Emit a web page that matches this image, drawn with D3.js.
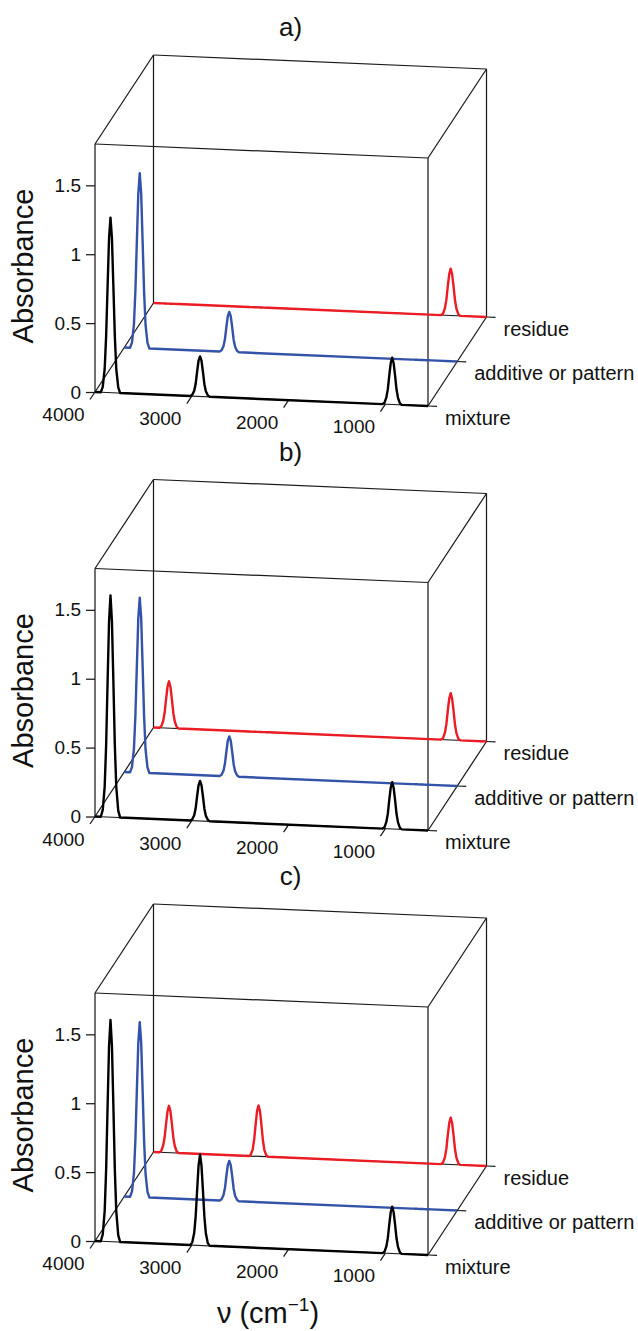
<!DOCTYPE html>
<html>
<head>
<meta charset="utf-8">
<script src="https://cdn.jsdelivr.net/npm/d3@7"></script>
<style>
  body { margin: 0; background: #fff; }
  svg { display: block; font-family: "Liberation Sans", Arial, sans-serif; }
</style>
</head>
<body>
<svg id="chart" width="638" height="1331"></svg>
<script>
// data
const panelNames = ["a)", "b)", "c)"];
const seriesNames = ["mixture", "additive or pattern", "residue"];
const xTicks = [4000, 3000, 2000, 1000];
const yTicks = [0, 0.5, 1, 1.5];

const wavenumbers = [4000,
  3940, 3920, 3900, 3885, 3870, 3855, 3840, 3825, 3810, 3795, 3780, 3760, 3740,
  3015, 2995, 2975, 2960, 2945, 2930, 2915, 2900, 2885, 2870, 2855, 2835, 2815,
  1030, 1010, 990, 975, 960, 945, 930, 915, 900, 885, 870, 850, 830,
  560];

const additive = [0,
  0, 0.04, 0.17, 0.41, 0.77, 1.12, 1.27, 1.12, 0.77, 0.41, 0.17, 0.04, 0,
  0, 0.01, 0.04, 0.09, 0.18, 0.26, 0.29, 0.26, 0.18, 0.09, 0.04, 0.01, 0,
  0, 0, 0, 0, 0, 0, 0, 0, 0, 0, 0, 0, 0,
  0];

const residueA = [0,
  0, 0, 0, 0, 0, 0, 0, 0, 0, 0, 0, 0, 0,
  0, 0, 0, 0, 0, 0, 0, 0, 0, 0, 0, 0, 0,
  0, 0.01, 0.05, 0.11, 0.21, 0.30, 0.34, 0.30, 0.21, 0.11, 0.05, 0.01, 0,
  0];
const residueB = [0,
  0, 0.01, 0.05, 0.11, 0.21, 0.30, 0.34, 0.30, 0.21, 0.11, 0.05, 0.01, 0,
  0, 0, 0, 0, 0, 0, 0, 0, 0, 0, 0, 0, 0,
  0, 0.01, 0.05, 0.11, 0.21, 0.30, 0.34, 0.30, 0.21, 0.11, 0.05, 0.01, 0,
  0];
const residueC = [0,
  0, 0.01, 0.05, 0.11, 0.21, 0.30, 0.34, 0.30, 0.21, 0.11, 0.05, 0.01, 0,
  0, 0.01, 0.05, 0.12, 0.23, 0.33, 0.37, 0.33, 0.23, 0.12, 0.05, 0.01, 0,
  0, 0.01, 0.05, 0.11, 0.21, 0.30, 0.34, 0.30, 0.21, 0.11, 0.05, 0.01, 0,
  0];

const mixtureA = [0,
  0, 0.04, 0.17, 0.41, 0.77, 1.12, 1.27, 1.12, 0.77, 0.41, 0.17, 0.04, 0,
  0, 0.01, 0.04, 0.09, 0.18, 0.26, 0.29, 0.26, 0.18, 0.09, 0.04, 0.01, 0,
  0, 0.01, 0.05, 0.11, 0.21, 0.30, 0.34, 0.30, 0.21, 0.11, 0.05, 0.01, 0,
  0];
const mixtureB = [0,
  0, 0.05, 0.22, 0.52, 0.98, 1.42, 1.61, 1.42, 0.98, 0.52, 0.22, 0.05, 0,
  0, 0.01, 0.04, 0.09, 0.18, 0.26, 0.29, 0.26, 0.18, 0.09, 0.04, 0.01, 0,
  0, 0.01, 0.05, 0.11, 0.21, 0.30, 0.34, 0.30, 0.21, 0.11, 0.05, 0.01, 0,
  0];
const mixtureC = [0,
  0, 0.05, 0.22, 0.52, 0.98, 1.42, 1.61, 1.42, 0.98, 0.52, 0.22, 0.05, 0,
  0, 0.02, 0.09, 0.21, 0.40, 0.58, 0.66, 0.58, 0.40, 0.21, 0.09, 0.02, 0,
  0, 0.01, 0.05, 0.11, 0.21, 0.30, 0.34, 0.30, 0.21, 0.11, 0.05, 0.01, 0,
  0];

const panelSeries = [
  [mixtureA, additive, residueA],
  [mixtureB, additive, residueB],
  [mixtureC, additive, residueC]
];

// styling / layout
const colors = ["#000000", "#3353a8", "#ec1c24"];
const ox = 95, oy0 = 392, panelStep = 424.5;
const xVec = [333, 14];      // full wavenumber range on screen
const dVec = [58.5, -89];    // full depth on screen
const zMax = 1.8;

const svg = d3.select("#chart");

const xFrac = d3.scaleLinear().domain([4000, 560]).range([0, 1]);
const zPix = d3.scaleLinear().domain([0, zMax]).range([0, 248]);
const depth = d3.scalePoint().domain(seriesNames).range([0, 1]);

panelNames.forEach(function(name, pi) {
  const oy = oy0 + pi * panelStep;
  const g = svg.append("g").attr("class", "panel");

  function proj(wn, a, d) {
    const f = xFrac(wn);
    return [ox + f * xVec[0] + d * dVec[0], oy + f * xVec[1] + d * dVec[1] - zPix(a)];
  }

  // box
  const wns = [4000, 560], zs = [0, zMax], ds = [0, 1];
  const edges = [];
  zs.forEach(z => ds.forEach(d => edges.push([proj(4000, z, d), proj(560, z, d)])));
  wns.forEach(w => ds.forEach(d => edges.push([proj(w, 0, d), proj(w, zMax, d)])));
  wns.forEach(w => zs.forEach(z => edges.push([proj(w, z, 0), proj(w, z, 1)])));
  g.selectAll(".edge").data(edges).enter().append("line")
    .attr("class", "edge")
    .attr("x1", e => e[0][0]).attr("y1", e => e[0][1])
    .attr("x2", e => e[1][0]).attr("y2", e => e[1][1])
    .attr("stroke", "#1a1a1a").attr("stroke-width", 1.25);

  // y axis on front-left edge
  const yPix = d3.scaleLinear().domain([0, zMax]).range([oy, oy - zPix(zMax)]);
  const yAxis = g.append("g")
    .attr("transform", `translate(${ox},0)`)
    .call(d3.axisLeft(yPix).tickValues(yTicks).tickSize(9).tickPadding(5).tickFormat(d3.format("")));
  yAxis.select(".domain").remove();
  yAxis.selectAll("line").attr("stroke", "#1a1a1a").attr("stroke-width", 1.25);
  yAxis.selectAll("text").attr("font-size", 19).attr("fill", "#111")
    .attr("font-family", "Liberation Sans, Arial, sans-serif");
  yAxis.attr("font-family", null);

  // x ticks along front-bottom edge
  xTicks.forEach(function(t) {
    const p = proj(t, 0, 0);
    g.append("line")
      .attr("x1", p[0]).attr("y1", p[1])
      .attr("x2", p[0] - 5).attr("y2", p[1] + 7.5)
      .attr("stroke", "#1a1a1a").attr("stroke-width", 1.25);
    g.append("text")
      .attr("x", p[0] - 31.5).attr("y", p[1] + 24)
      .attr("text-anchor", "middle").attr("dominant-baseline", "middle")
      .attr("font-size", 19).attr("fill", "#111")
      .text(t);
  });

  // series tick marks + labels at the right end
  seriesNames.forEach(function(s) {
    const p = proj(560, 0, depth(s));
    g.append("line")
      .attr("x1", p[0]).attr("y1", p[1])
      .attr("x2", p[0] + 9).attr("y2", p[1] + 0.4)
      .attr("stroke", "#1a1a1a").attr("stroke-width", 1.25);
    g.append("text")
      .attr("x", p[0] + 17).attr("y", p[1] + 13.5)
      .attr("dominant-baseline", "middle")
      .attr("font-size", 20).attr("fill", "#111")
      .text(s);
  });

  // spectra, back to front
  const line = d3.line().x(p => p[0]).y(p => p[1]);
  [2, 1, 0].forEach(function(si) {
    const d = depth(seriesNames[si]);
    const vals = panelSeries[pi][si];
    const pts = wavenumbers.map((w, i) => proj(w, vals[i], d));
    g.append("path")
      .attr("d", line(pts))
      .attr("fill", "none")
      .attr("stroke", colors[si])
      .attr("stroke-width", 2.4)
      .attr("stroke-linejoin", "round");
  });

  // panel title
  g.append("text")
    .attr("x", 290.5).attr("y", oy - 356)
    .attr("text-anchor", "middle")
    .attr("font-size", 26).attr("fill", "#111")
    .text(name);

  // y axis title
  g.append("text")
    .attr("transform", `translate(33,${oy - 126}) rotate(-90)`)
    .attr("text-anchor", "middle")
    .attr("font-size", 29).attr("fill", "#111")
    .text("Absorbance");
});

// x axis title
const xt = svg.append("text")
  .attr("x", 268).attr("y", 1323)
  .attr("text-anchor", "middle")
  .attr("font-size", 29).attr("fill", "#111");
xt.append("tspan").text("ν (cm");
xt.append("tspan").attr("dy", -12).attr("font-size", 19).text("−1");
xt.append("tspan").attr("dy", 12).text(")");
</script>
</body>
</html>
